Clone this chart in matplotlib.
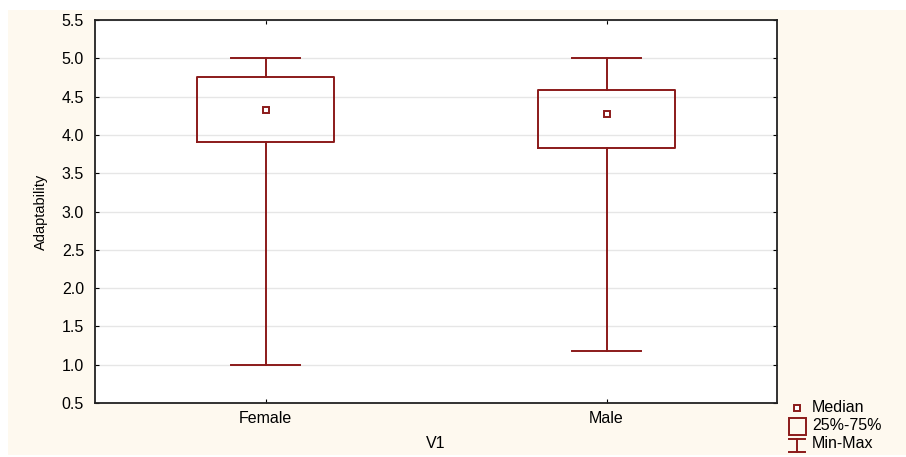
import matplotlib.pyplot as plt
from matplotlib.patches import Rectangle
from matplotlib.lines import Line2D

# data
groups = ['Female', 'Male']
mins = [1.0, 1.18]
q1 = [3.91, 3.83]
medians = [4.33, 4.27]
q3 = [4.75, 4.58]
maxs = [5.0, 5.0]

red = '#8b1a1a'
plt.rcParams['font.family'] = ['Liberation Sans', 'DejaVu Sans']

fig = plt.figure(figsize=(9.06, 4.57), dpi=100, facecolor='white')
# cream panel behind the plot
fig.add_artist(Rectangle((8 / 906, 0.004), 1 - 8 / 906, 1 - 10 / 457 - 0.004,
                         transform=fig.transFigure, facecolor='#fef9ef',
                         edgecolor='none', zorder=-10))
ax = fig.add_axes([95 / 906, 1 - 403 / 457, (777 - 95) / 906, (403 - 20) / 457])
ax.set_facecolor('white')

stats = []
for i, g in enumerate(groups):
    stats.append(dict(label=g, whislo=mins[i], q1=q1[i], med=medians[i],
                      q3=q3[i], whishi=maxs[i], fliers=[]))

lp = dict(color=red, linewidth=1.4)
ax.bxp(stats, positions=[1, 2], widths=0.4, showfliers=False,
       boxprops=lp, whiskerprops=lp, capprops=lp,
       medianprops=dict(linewidth=0))
ax.plot([1, 2], medians, linestyle='none', marker='s', markersize=5,
        markerfacecolor='white', markeredgecolor=red, markeredgewidth=1.4,
        zorder=5)

ax.set_xlim(0.5, 2.5)
ax.set_ylim(0.5, 5.5)
ax.set_yticks([0.5, 1.0, 1.5, 2.0, 2.5, 3.0, 3.5, 4.0, 4.5, 5.0, 5.5])
ax.set_yticklabels([f'{v:.1f}' for v in ax.get_yticks()])
ax.set_xticks([1, 2])
ax.set_xticklabels(groups)
ax.yaxis.grid(True, color='#e6e6e6', linewidth=1)
ax.set_axisbelow(True)

ax.tick_params(axis='x', direction='in', length=3, top=True, labelsize=11.5, pad=6)
ax.tick_params(axis='y', direction='in', length=3, right=True, labelsize=11.5, pad=8)
for s in ax.spines.values():
    s.set_linewidth(1.3)
    s.set_color('#222222')

ax.set_xlabel('V1', fontsize=11.5, labelpad=7)
ax.set_ylabel('Adaptability', fontsize=10.5, labelpad=10)

# legend drawn by hand in pixel-like figure coords
def fx(px):
    return px / 906

def fy(py):
    return 1 - py / 457

fig.add_artist(Line2D([fx(797)], [fy(408)], marker='s', markersize=4.5,
                      markerfacecolor='white', markeredgecolor=red,
                      markeredgewidth=1.4, linestyle='none'))
fig.add_artist(Rectangle((fx(789), fy(435)), fx(17), 17 / 457, fill=False,
                         edgecolor=red, linewidth=1.4, transform=fig.transFigure))
fig.add_artist(Line2D([fx(789), fx(805)], [fy(439), fy(439)], color=red, lw=1.4))
fig.add_artist(Line2D([fx(789), fx(805)], [fy(452), fy(452)], color=red, lw=1.4))
fig.add_artist(Line2D([fx(797), fx(797)], [fy(439), fy(452)], color=red, lw=1.4))
for ypx, txt in [(408, 'Median'), (426, '25%-75%'), (444, 'Min-Max')]:
    fig.text(fx(812), fy(ypx), txt, fontsize=11.5, va='center', ha='left')

fig.savefig('out.png', dpi=100, facecolor='white')
